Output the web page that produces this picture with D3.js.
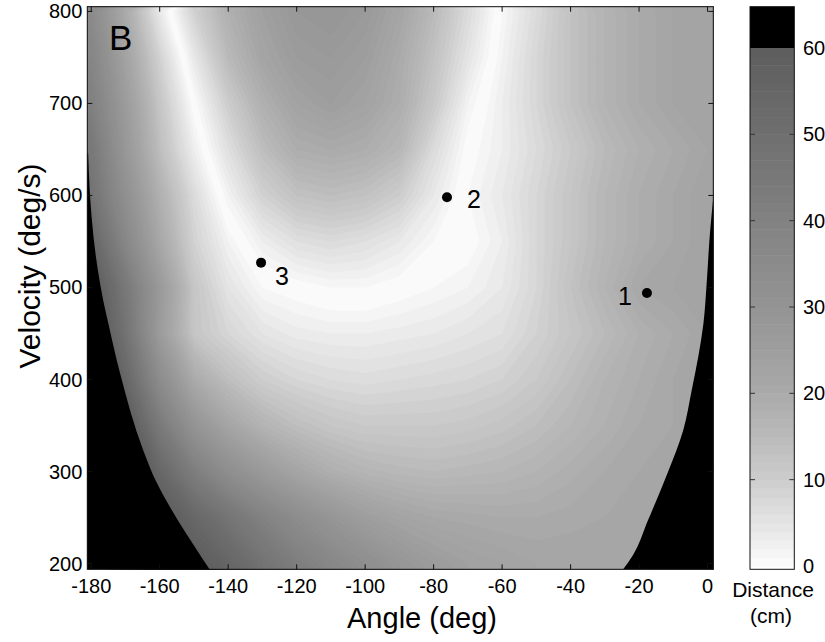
<!DOCTYPE html>
<html>
<head>
<meta charset="utf-8">
<script src="https://cdn.jsdelivr.net/npm/d3@7"></script>
<style>
  html, body { margin: 0; padding: 0; background: #fff; }
  svg text { font-family: "Liberation Sans", Arial, Helvetica, sans-serif; fill: #000; }
</style>
</head>
<body>
<svg id="chart" width="825" height="642"></svg>
<script>
/* ── Data ───────────────────────────────────────────────────────── */
const angles     = [-180, -170, -160, -150, -140, -130, -120, -110, -100, -90, -80, -70, -60, -50, -40, -30, -20, -10, 0];
const velocities = [800, 750, 700, 650, 600, 550, 500, 450, 400, 350, 300, 250, 200];

// miss distance (cm) per velocity row; sign marks the side of the zero curve
// (+ inside the U, - outside); the picture shows |value|
const distance = [
  [-35, -20,  -4,   9,  18,  24,   28,    29,    27,    22,    15,     7,    -1,    -7,   -13,   -17,   -20,   -22,   -23],
  [-38, -23,  -9,   4,  15,  22,   26,    27,    25,    20,    13,     5,    -2,    -8,   -13,   -17,   -20,   -22,   -23],
  [-41, -26, -12,   0,  10,  18,   23,    25,    23,    19,    11,     2,    -3,    -8,   -13,   -17,   -20,   -22,   -23],
  [-45, -28, -14,  -3,   6,  14,   19,    20,    19,    16,     7,     0,    -3,    -7,   -11,   -15,   -18,   -20,   -22],
  [-48, -32, -18,  -7,   2,   9,   13,    14,    13,    10,     4,    -1,    -4,    -8,   -12,   -16,   -19,   -21,   -23],
  [-55, -37, -21,  -9,  -2,   3,    6,     7,     6,     4,     1,     0,    -3,    -8,   -12,   -16,   -19,   -21,   -23],
  [-62, -45, -27, -12,  -5,  -1,    0,     1,     1,     0,    -1,    -2,    -4,    -8,   -13,   -17,   -21,   -22,   -23],
  [-66, -48, -26, -12,  -8,  -5, -3.5,    -3,    -3,  -3.5,    -4,    -5,    -6,    -9,   -12,   -15,   -18,   -20,   -22],
  [-70, -54, -34, -20, -14, -10,   -8,    -7,  -6.5,    -7,  -7.5,    -8,    -9,   -11,   -14,   -17,   -19,   -21,   -22],
  [-74, -62, -44, -30, -22, -17,  -14,   -12,   -11,   -11,   -11, -11.5, -12.5,   -14,   -16,   -18,   -20,   -21,   -22],
  [-77, -68, -54, -42, -33, -27,  -22, -18.5, -16.5, -15.5,   -15, -15.5,   -16,   -17, -18.5,   -20,   -21,   -22,   -22],
  [-79, -72, -62, -54, -47, -40,  -34,   -29,   -25, -22.5,   -21, -20.5,   -20,   -20, -20.5,   -21,   -22,   -22,   -22],
  [-80, -76, -68, -61, -55, -48,  -42,   -37,   -33,   -29,   -26,   -24,   -23,   -22,   -22,   -22,   -22,   -22,   -22]
];

// edges of the black (no valid throw) regions, [angle, velocity]
const leftEdge  = [[-180.9, 646], [-179.9, 577], [-178.2, 522], [-176.5, 486], [-175.0, 461], [-171.6, 407],
                   [-164.8, 323], [-160.9, 288], [-155.5, 252], [-149.2, 215], [-145.5, 194]];
const rightEdge = [[1.7, 599], [0.7, 559], [-0.25, 505], [-1.2, 461], [-2.7, 425], [-4.6, 389],
                   [-7.1, 345], [-11.5, 300], [-17.4, 247], [-21.8, 209], [-24.6, 194]];

const pointIds  = ['1', '2', '3'];
const pointAng  = [-17.7, -76.1, -130.4];
const pointVel  = [494, 598, 527];

const xTicks  = [-180, -160, -140, -120, -100, -80, -60, -40, -20, 0];
const yTicks  = [200, 300, 400, 500, 600, 700, 800];
const cbTicks = [0, 10, 20, 30, 40, 50, 60];

/* ── Layout ─────────────────────────────────────────────────────── */
const plot = { left: 87.3, right: 713.3, top: 6.7, bottom: 569.3 };
const cb   = { left: 750, right: 794.3, top: 6.7, bottom: 569.3 };
const FONT_TICK = 20;

const svg = d3.select('#chart');

const x = d3.scaleLinear().domain([-181.15, 1.68]).range([plot.left, plot.right]);
const y = d3.scaleLinear().domain([193.8, 805.1]).range([plot.bottom, plot.top]);

// distance -> grey (white at 0, dark grey at 60, black above)
const grey = d3.scaleLinear()
  .domain([0, 5, 10, 15, 20, 25, 30, 40, 50, 60])
  .range([252, 228, 205, 186, 170, 158, 148, 130, 111, 93])
  .clamp(true);
const bandFill = v => v > 60 ? '#000' : d3.rgb(grey(v), grey(v), grey(v)).formatHex();

/* ── Heat map (filled contours, 1 cm bands) ─────────────────────── */
svg.append('clipPath').attr('id', 'plot-clip')
  .append('rect')
  .attr('x', plot.left).attr('y', plot.top)
  .attr('width', plot.right - plot.left).attr('height', plot.bottom - plot.top);

const nx = angles.length, ny = velocities.length;
const gx = d3.scaleLinear().domain([0.5, nx - 0.5]).range([x(angles[0]), x(angles[nx - 1])]);
const gy = d3.scaleLinear().domain([0.5, ny - 0.5]).range([y(velocities[0]), y(velocities[ny - 1])]);
const gridPath = d3.geoPath(d3.geoTransform({
  point(px, py) { this.stream.point(gx(px), gy(py)); }
}));

const values = distance.flat();
const thresholds = d3.range(Math.floor(d3.min(values)), Math.ceil(d3.max(values)) + 1, 1);
const bands = d3.contours().size([nx, ny]).thresholds(thresholds)(values);

const heat = svg.append('g').attr('clip-path', 'url(#plot-clip)');
heat.selectAll('path').data(bands).join('path')
  .attr('d', gridPath)
  .attr('fill', d => bandFill(Math.abs(d.value + 0.5)))
  .attr('stroke', d => bandFill(Math.abs(d.value + 0.5)))
  .attr('stroke-width', 0.3);

// black regions
const edgeLine = d3.line().x(d => x(d[0])).y(d => y(d[1])).curve(d3.curveMonotoneY);
const [xMin, xMax] = x.domain();
const yMin = y.domain()[0];
const leftD = edgeLine(leftEdge)
  + `L${x(xMin - 2)},${y(yMin - 2)}L${x(xMin - 2)},${y(leftEdge[0][1])}Z`;
const rightD = edgeLine(rightEdge)
  + `L${x(xMax + 2)},${y(yMin - 2)}L${x(xMax + 2)},${y(rightEdge[0][1])}Z`;
heat.selectAll('path.blk').data([leftD, rightD]).join('path')
  .attr('class', 'blk')
  .attr('d', d => d)
  .attr('fill', '#000');

/* ── Points ─────────────────────────────────────────────────────── */
const labelDx = [-22, 27, 21];
const labelDy = [3, 2, 14];
const pts = svg.append('g');
pts.selectAll('circle').data(pointIds).join('circle')
  .attr('cx', (d, i) => x(pointAng[i]))
  .attr('cy', (d, i) => y(pointVel[i]))
  .attr('r', 5)
  .attr('fill', '#000');
pts.selectAll('text').data(pointIds).join('text')
  .attr('x', (d, i) => x(pointAng[i]) + labelDx[i])
  .attr('y', (d, i) => y(pointVel[i]) + labelDy[i])
  .attr('dy', '0.35em')
  .attr('text-anchor', 'middle')
  .attr('font-size', 25)
  .text(d => d);

/* ── Frame + ticks ──────────────────────────────────────────────── */
svg.append('rect')
  .attr('x', plot.left).attr('y', plot.top)
  .attr('width', plot.right - plot.left).attr('height', plot.bottom - plot.top)
  .attr('fill', 'none').attr('stroke', '#111').attr('stroke-width', 1);

const tk = svg.append('g').attr('stroke', '#111').attr('stroke-width', 1);
yTicks.forEach(v => {
  tk.append('line').attr('x1', plot.left).attr('x2', plot.left + 5).attr('y1', y(v)).attr('y2', y(v));
  tk.append('line').attr('x1', plot.right).attr('x2', plot.right - 5).attr('y1', y(v)).attr('y2', y(v));
});
xTicks.forEach(a => {
  tk.append('line').attr('x1', x(a)).attr('x2', x(a)).attr('y1', plot.bottom).attr('y2', plot.bottom - 5);
  tk.append('line').attr('x1', x(a)).attr('x2', x(a)).attr('y1', plot.top).attr('y2', plot.top + 5);
});

svg.append('g').selectAll('text').data(yTicks).join('text')
  .attr('x', plot.left - 5)
  .attr('y', d => y(d))
  .attr('dy', '0.35em')
  .attr('text-anchor', 'end')
  .attr('font-size', FONT_TICK)
  .text(d => d);

svg.append('g').selectAll('text').data(xTicks).join('text')
  .attr('x', d => x(d))
  .attr('y', 593)
  .attr('text-anchor', 'middle')
  .attr('font-size', FONT_TICK)
  .text(d => d);

svg.append('text')
  .attr('x', 422).attr('y', 628)
  .attr('text-anchor', 'middle').attr('font-size', 29)
  .text('Angle (deg)');

svg.append('text')
  .attr('transform', 'translate(40,266) rotate(-90)')
  .attr('text-anchor', 'middle').attr('font-size', 30)
  .text('Velocity (deg/s)');

svg.append('text')
  .attr('x', 109).attr('y', 50)
  .attr('font-size', 35)
  .text('B');

/* ── Colour bar ─────────────────────────────────────────────────── */
const cbY = d3.scaleLinear().domain([0, 60]).range([566, 48]);
const cbg = svg.append('g');
cbg.append('rect')
  .attr('x', cb.left).attr('y', cb.top)
  .attr('width', cb.right - cb.left).attr('height', cb.bottom - cb.top)
  .attr('fill', '#fff');
cbg.selectAll('rect.band').data(d3.range(0, 60)).join('rect')
  .attr('class', 'band')
  .attr('x', cb.left).attr('width', cb.right - cb.left)
  .attr('y', d => cbY(d + 1))
  .attr('height', d => cbY(d) - cbY(d + 1) + 0.5)
  .attr('fill', d => bandFill(d + 0.5));
cbg.append('rect')
  .attr('x', cb.left).attr('width', cb.right - cb.left)
  .attr('y', cb.top).attr('height', cbY(60) - cb.top)
  .attr('fill', '#000');
cbg.append('rect')
  .attr('x', cb.left).attr('y', cb.top)
  .attr('width', cb.right - cb.left).attr('height', cb.bottom - cb.top)
  .attr('fill', 'none').attr('stroke', '#111').attr('stroke-width', 1);

cbTicks.filter(v => v > 0 && v < 60).forEach(v => {
  cbg.append('line').attr('x1', cb.left).attr('x2', cb.left + 5).attr('y1', cbY(v)).attr('y2', cbY(v))
    .attr('stroke', '#333');
  cbg.append('line').attr('x1', cb.right).attr('x2', cb.right - 5).attr('y1', cbY(v)).attr('y2', cbY(v))
    .attr('stroke', '#333');
});

cbg.selectAll('text.cbt').data(cbTicks).join('text')
  .attr('class', 'cbt')
  .attr('x', 803)
  .attr('y', d => cbY(d))
  .attr('dy', '0.35em')
  .attr('font-size', FONT_TICK)
  .text(d => d);

cbg.append('text')
  .attr('x', 773).attr('y', 597)
  .attr('text-anchor', 'middle').attr('font-size', 21)
  .text('Distance');
cbg.append('text')
  .attr('x', 771).attr('y', 623)
  .attr('text-anchor', 'middle').attr('font-size', 21)
  .text('(cm)');
</script>
</body>
</html>
